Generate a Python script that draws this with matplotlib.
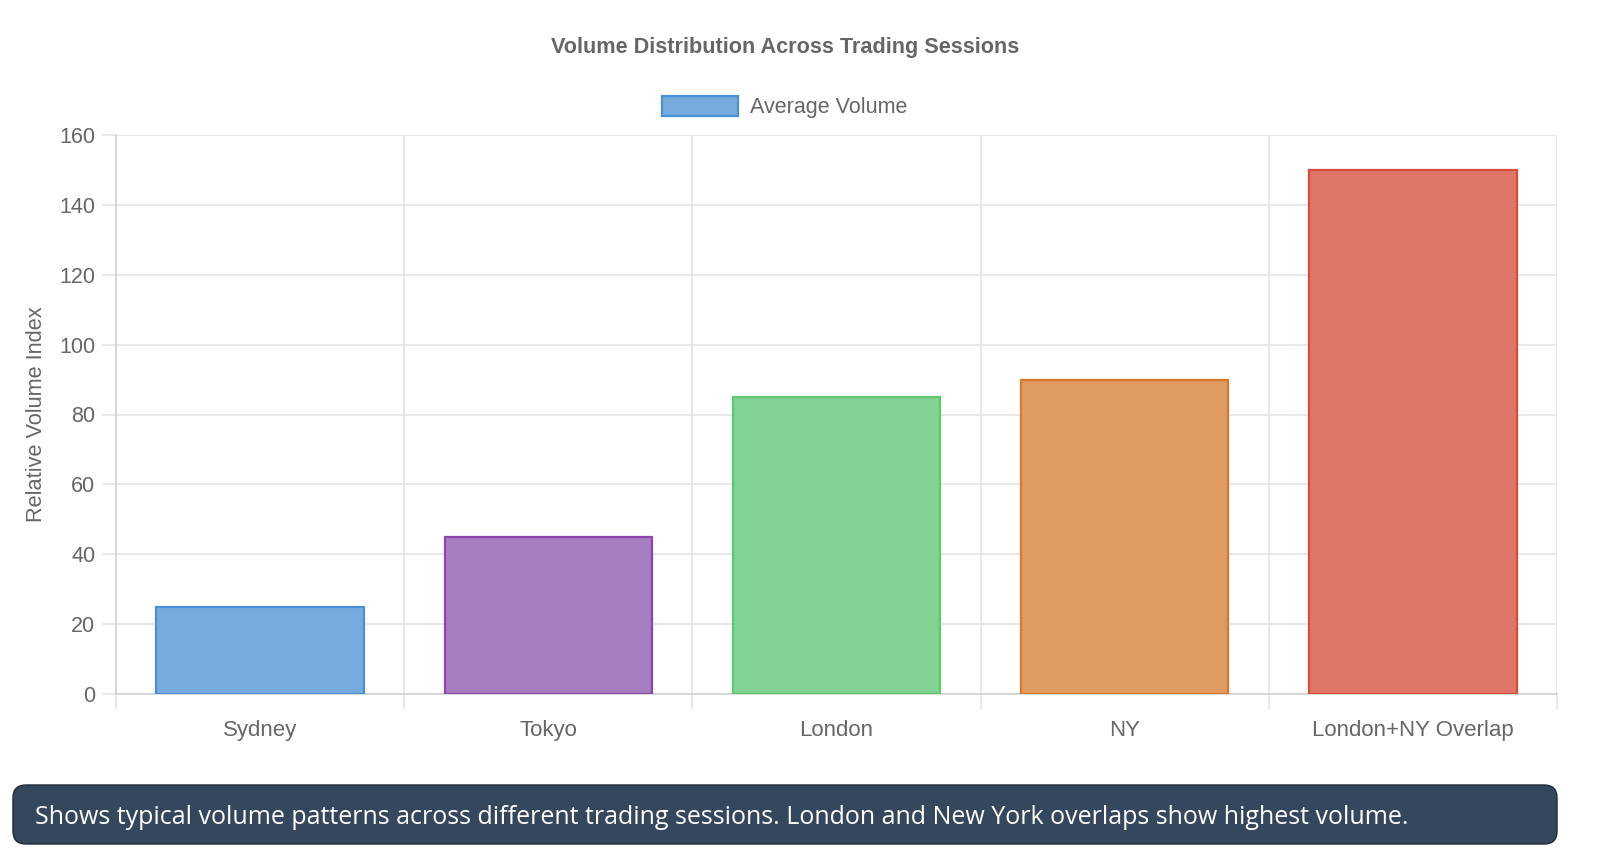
import numpy as np
import matplotlib.pyplot as plt
from matplotlib.patches import Patch, FancyBboxPatch

sessions = ["Sydney", "Tokyo", "London", "NY", "London+NY Overlap"]
volume = [25, 45, 85, 90, 150]
fill_colors = ["#76aadc", "#a77fc1", "#82d393", "#e09b62", "#df7668"]
edge_colors = ["#4a90d9", "#8e44ad", "#5dc872", "#d9782d", "#d94c3b"]
y_ticks = [0, 20, 40, 60, 80, 100, 120, 140, 160]

title = "Volume Distribution Across Trading Sessions"
legend_label = "Average Volume"
y_label = "Relative Volume Index"
caption = ("Shows typical volume patterns across different trading sessions. "
           "London and New York overlaps show highest volume.")

plt.rcParams['font.family'] = ['Liberation Sans', 'DejaVu Sans']

fig = plt.figure(figsize=(16, 8.57), dpi=100)
ax = fig.add_axes([116 / 1600, 1 - 694 / 857, (1557 - 116) / 1600, (694 - 135) / 857])

x = np.arange(len(sessions))
ax.bar(x, volume, width=0.72, color=fill_colors, edgecolor=edge_colors,
       linewidth=1.6, zorder=3)

ax.set_xlim(-0.5, len(sessions) - 0.5)
ax.set_ylim(0, 160)
ax.set_yticks(y_ticks)
ax.set_xticks(x)
ax.set_xticklabels(sessions)
ax.set_xticks(np.arange(len(sessions) + 1) - 0.5, minor=True)

grid_c = "#e2e2e2"
ax.grid(axis='y', which='major', color=grid_c, linewidth=1.1, zorder=0)
ax.grid(axis='x', which='minor', color=grid_c, linewidth=1.1, zorder=0)
ax.set_axisbelow(True)

ax.tick_params(axis='y', which='major', length=10, width=1.1, color=grid_c,
               labelsize=15.5, labelcolor='#666666', pad=5)
ax.tick_params(axis='x', which='major', length=0, labelsize=16,
               labelcolor='#666666', pad=19)
ax.tick_params(axis='x', which='minor', length=11, width=1.1, color=grid_c)

for s in ['top', 'right']:
    ax.spines[s].set_visible(False)
for s in ['left', 'bottom']:
    ax.spines[s].set_color('#cfcfcf')
    ax.spines[s].set_linewidth(1.1)

ax.set_ylabel(y_label, fontsize=15.7, color='#666666', labelpad=9)

fig.text(785 / 1600, 1 - 48 / 857, title, ha='center', va='center',
         fontsize=15.6, fontweight='bold', color='#666666')

handle = Patch(facecolor=fill_colors[0], edgecolor=edge_colors[0], linewidth=1.6)
fig.legend([handle], [legend_label], loc='center',
           bbox_to_anchor=(785 / 1600, 1 - 107 / 857), frameon=False,
           fontsize=15.5, labelcolor='#666666', handlelength=3.5,
           handleheight=1.1, handletextpad=0.6)

box = FancyBboxPatch((13 / 1600, 1 - 844 / 857), (1557 - 13) / 1600, 59 / 857,
                     boxstyle="round,pad=0,rounding_size=0.008",
                     transform=fig.transFigure, facecolor='#34475d',
                     edgecolor='#1e2a3a', linewidth=1, mutation_aspect=1600 / 857)
fig.patches.append(box)
fig.text(35 / 1600, 1 - 817 / 857, caption, ha='left', va='center',
         fontsize=18, color='white', family=['Open Sans', 'DejaVu Sans'])

fig.savefig("out.png", dpi=100)
